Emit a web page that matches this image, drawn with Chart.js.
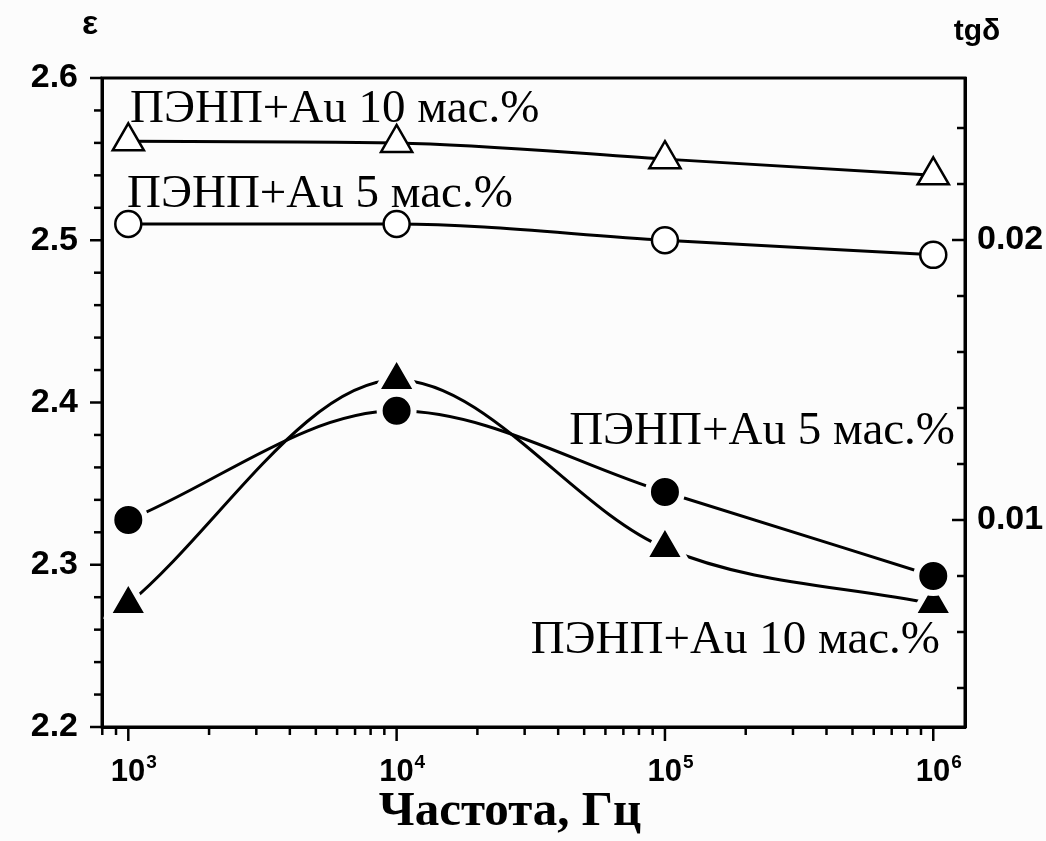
<!DOCTYPE html>
<html>
<head>
<meta charset="utf-8">
<script src="https://cdn.jsdelivr.net/npm/chart.js@4.4.0/dist/chart.umd.min.js"></script>
<style>
  body { margin: 0; background: #fcfcfc; }
  canvas { display: block; }
</style>
</head>
<body>
<canvas id="chart" width="1046" height="841"></canvas>
<script>
// частота, Гц
const freq = [1e3, 1e4, 1e5, 1e6];

// ε - левая ось (светлые значки)
const epsAu10 = [2.561, 2.560, 2.550, 2.540];
const epsAu5 = [2.510, 2.510, 2.500, 2.491];

// tgδ - правая ось (тёмные значки)
const tgAu5 = [0.0100, 0.0139, 0.0110, 0.0080];
const tgAu10 = [0.0070, 0.0150, 0.0090, 0.0070];

const seriesNames = ['ПЭНП+Au 10 мас.%', 'ПЭНП+Au 5 мас.%'];

const freqTicks = [1e3, 1e4, 1e5, 1e6];
const freqExp = ['3', '4', '5', '6'];
const epsTicks = [2.2, 2.3, 2.4, 2.5, 2.6];
const tgTicks = [0.01, 0.02];

const BG = '#fcfcfc';

function points(ys){
    return freq.map((f, i) => ({x: f, y: ys[i]}));
}

// рамка, засечки, подписи оси частот и надписи у кривых
const decorPlugin = {
    id: 'decor',
    beforeDraw(chart){
        const ctx = chart.ctx;
        ctx.save();
        ctx.fillStyle = BG;
        ctx.fillRect(0, 0, chart.width, chart.height);
        ctx.restore();
    },
    afterDraw(chart){
        const {ctx, chartArea: a, scales} = chart;
        ctx.save();
        ctx.strokeStyle = '#000';
        ctx.fillStyle = '#000';
        ctx.lineWidth = 3;
        ctx.strokeRect(a.left, a.top, a.right - a.left, a.bottom - a.top);

        ctx.lineWidth = 2.5;
        // левая ось: засечки наружу
        for(let i = 0; i <= 20; i++){
            let y = scales.y.getPixelForValue(2.2 + i * 0.02);
            let len = i % 5 == 0 ? 12 : 8;
            ctx.beginPath();
            ctx.moveTo(a.left - len, y);
            ctx.lineTo(a.left, y);
            ctx.stroke();
        }
        // правая ось: засечки внутрь
        for(let i = 2; i <= 12; i++){
            let v = i * 0.002;
            if(v < scales.y1.min || v > scales.y1.max) continue;
            let y = scales.y1.getPixelForValue(v);
            let len = i % 5 == 0 ? 13 : 8;
            ctx.beginPath();
            ctx.moveTo(a.right - len, y);
            ctx.lineTo(a.right, y);
            ctx.stroke();
        }
        // ось частот
        for(let d = 2; d <= 6; d++){
            for(let k = 1; k <= 9; k++){
                let v = k * Math.pow(10, d);
                if(v < scales.x.min || v > scales.x.max) continue;
                let x = scales.x.getPixelForValue(v);
                let len = k == 1 ? 14 : 8;
                ctx.beginPath();
                ctx.moveTo(x, a.bottom);
                ctx.lineTo(x, a.bottom + len);
                ctx.stroke();
            }
        }

        ctx.textBaseline = 'alphabetic';
        freqTicks.forEach((v, i) => {
            let x = scales.x.getPixelForValue(v);
            ctx.font = 'bold 31px "Liberation Sans"';
            ctx.textAlign = 'right';
            ctx.fillText('10', x + 17, 781);
            ctx.font = 'bold 19px "Liberation Sans"';
            ctx.textAlign = 'left';
            ctx.fillText(freqExp[i], x + 18, 768);
        });

        ctx.textAlign = 'center';
        ctx.font = 'bold 34px "Liberation Sans"';
        ctx.fillText('ε', 90, 34);
        ctx.font = 'bold 30px "Liberation Sans"';
        ctx.fillText('tgδ', 977, 40);
        ctx.font = 'bold 49px "Liberation Serif"';
        ctx.fillText('Частота, Гц', 510, 825);

        ctx.font = '47px "Liberation Serif"';
        ctx.textAlign = 'left';
        ctx.fillText(seriesNames[0], 130, 122);
        ctx.fillText(seriesNames[1], 127, 207);
        ctx.textAlign = 'right';
        ctx.fillText(seriesNames[1], 955, 444);
        ctx.fillText(seriesNames[0], 940, 653);
        ctx.restore();
    }
};

const lineBase = {
    borderColor: '#000',
    borderWidth: 3,
    fill: false,
    cubicInterpolationMode: 'monotone'
};

const data = {
    datasets: [
        Object.assign({}, lineBase, {
            label: seriesNames[0] + ' ε',
            data: points(epsAu10),
            yAxisID: 'y',
            pointStyle: 'triangle',
            pointRadius: 18,
            pointBackgroundColor: '#fff',
            pointBorderColor: '#000',
            pointBorderWidth: 2.5
        }),
        Object.assign({}, lineBase, {
            label: seriesNames[1] + ' ε',
            data: points(epsAu5),
            yAxisID: 'y',
            pointStyle: 'circle',
            pointRadius: 13,
            pointBackgroundColor: '#fff',
            pointBorderColor: '#000',
            pointBorderWidth: 2.5
        }),
        Object.assign({}, lineBase, {
            label: seriesNames[1] + ' tgδ',
            data: points(tgAu5),
            yAxisID: 'y1',
            pointStyle: 'circle',
            pointRadius: 17,
            pointBackgroundColor: '#000',
            pointBorderColor: BG,
            pointBorderWidth: 6,
            order: 0
        }),
        Object.assign({}, lineBase, {
            label: seriesNames[0] + ' tgδ',
            data: points(tgAu10),
            yAxisID: 'y1',
            pointStyle: 'triangle',
            pointRadius: 24,
            pointBackgroundColor: '#000',
            pointBorderColor: BG,
            pointBorderWidth: 6,
            order: 1
        })
    ]
};

const tickFont = {family: 'Liberation Sans', weight: 'bold', size: 34};

const config = {
    type: 'line',
    data: data,
    plugins: [decorPlugin],
    options: {
        responsive: false,
        animation: false,
        events: [],
        layout: {padding: {top: 78, left: 0, right: 0, bottom: 0}},
        plugins: {
            legend: {display: false},
            tooltip: {enabled: false}
        },
        scales: {
            x: {
                type: 'logarithmic',
                min: 798,
                max: 1.313e6,
                ticks: {display: false},
                grid: {display: false, drawTicks: false},
                border: {display: true, color: '#000', width: 3},
                afterBuildTicks: s => { s.ticks = freqTicks.map(v => ({value: v})); },
                afterFit: s => { s.height = 114; }
            },
            y: {
                position: 'left',
                min: 2.2,
                max: 2.6,
                ticks: {
                    color: '#000',
                    font: tickFont,
                    padding: 24,
                    callback: v => v.toFixed(1)
                },
                grid: {display: false, drawTicks: false},
                border: {display: true, color: '#000', width: 3},
                afterBuildTicks: s => { s.ticks = epsTicks.map(v => ({value: v})); },
                afterFit: s => { s.width = 102; }
            },
            y1: {
                position: 'right',
                min: 0.002607,
                max: 0.025786,
                ticks: {
                    color: '#000',
                    font: tickFont,
                    padding: 12,
                    callback: v => v.toFixed(2)
                },
                grid: {display: false, drawTicks: false},
                border: {display: true, color: '#000', width: 3},
                afterBuildTicks: s => { s.ticks = tgTicks.map(v => ({value: v})); },
                afterFit: s => { s.width = 81; }
            }
        }
    }
};

const chart = new Chart(document.getElementById('chart'), config);
</script>
</body>
</html>
